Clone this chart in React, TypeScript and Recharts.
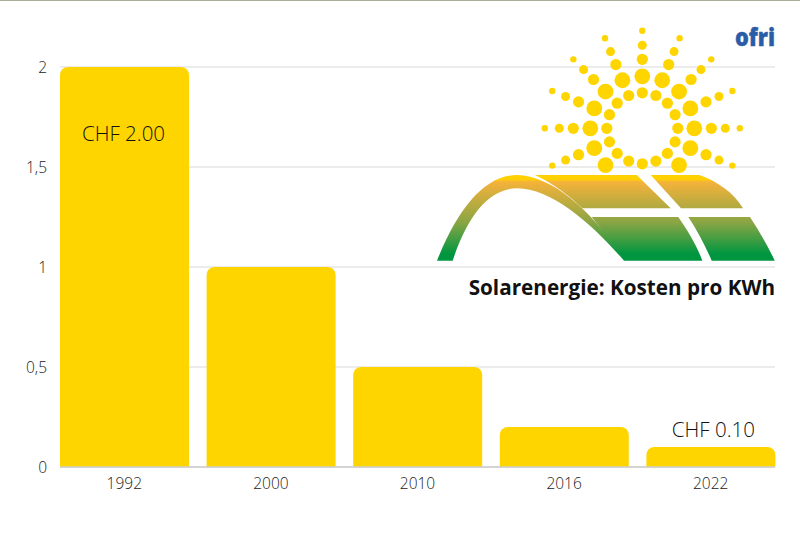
import { Bar, BarChart, CartesianGrid, LabelList, XAxis, YAxis } from 'recharts';

const YEARS = ['1992', '2000', '2010', '2016', '2022'];
const COSTS = [2, 1, 0.5, 0.2, 0.1];
const COST_LABELS = ['CHF 2.00', '', '', '', 'CHF 0.10'];
const Y_TICKS = [0, 0.5, 1, 1.5, 2];

const chartData = YEARS.map((year, i) => ({
  year,
  cost: COSTS[i],
  label: COST_LABELS[i],
}));

const FONT = '"Open Sans", sans-serif';
const YELLOW = '#ffd500';

// logo: dots on a polar grid around the sun centre
const SUN_X = 642.3;
const SUN_Y = 128.3;
const SUN_RINGS = [
  { radius: 35.5, size: 5.6, skip: 0 },
  { radius: 52, size: 7.9, skip: 1 },
  { radius: 69, size: 5.6, skip: 2 },
  { radius: 83, size: 4.5, skip: 2 },
  { radius: 97.5, size: 3.2, skip: 2 },
];

function sunDots() {
  const dots: { x: number; y: number; r: number }[] = [];
  SUN_RINGS.forEach((ring) => {
    for (let step = -8; step < 8; step++) {
      const off = Math.abs(step);
      if (ring.skip === 1 && off > 6) continue;
      if (ring.skip === 2 && off > 5) continue;
      const a = (step * 22.5 * Math.PI) / 180;
      dots.push({
        x: SUN_X + ring.radius * Math.sin(a),
        y: SUN_Y - ring.radius * Math.cos(a),
        r: ring.size,
      });
    }
  });
  return dots;
}

function SolarLogo() {
  return (
    <g>
      <defs>
        <linearGradient id='panel' gradientUnits='userSpaceOnUse' x1='0' y1='175' x2='0' y2='261'>
          <stop offset='0' stopColor='#ffd100' />
          <stop offset='0.05' stopColor='#ffd100' />
          <stop offset='0.08' stopColor='#f5b23a' />
          <stop offset='0.55' stopColor='#8aa544' />
          <stop offset='0.92' stopColor='#009640' />
          <stop offset='1' stopColor='#009640' />
        </linearGradient>
      </defs>
      {sunDots().map((d, i) => (
        <circle key={i} cx={d.x} cy={d.y} r={d.r} fill={YELLOW} />
      ))}
      <path
        d='M437 260.7 C458 208 485 175 517 175 C552 175 596 214 624 260.7 C592 224 552 188.3 517 188.3 C490 188.3 468 214 452.7 260.7 Z'
        fill='url(#panel)'
      />
      <path d='M535 175 L636.7 175 L670.7 208.3 L582.3 208.3 C570 196 552 183 535 175 Z' fill='url(#panel)' />
      <path d='M650.7 175 L699.3 175 C717 181 734 193 743 208.3 L681 208.3 Z' fill='url(#panel)' />
      <path d='M591.7 217 L678.3 217 C688 231 697 246 702.3 260.7 L624 260.7 C613 245 602 230 591.7 217 Z' fill='url(#panel)' />
      <path d='M688.3 217 L750 217 C759 231 768 246 774.7 260.7 L711.7 260.7 C705 245 697 230 688.3 217 Z' fill='url(#panel)' />
      <text
        x={735}
        y={45.7}
        fontFamily={FONT}
        fontWeight={800}
        fontSize={25}
        fill='#2a5ca8'
        stroke='#2a5ca8'
        strokeWidth={0.4}
        textLength={40}
        lengthAdjust='spacingAndGlyphs'
      >
        ofri
      </text>
      <text x={775} y={295} textAnchor='end' fontFamily={FONT} fontWeight={700} fontSize={20.7} fill='#111'>
        Solarenergie: Kosten pro KWh
      </text>
    </g>
  );
}

function CostLabel(props: any) {
  const { x, y, width, value, index } = props;
  if (!value) return null;
  // first label sits inside the tall bar, the last one above its short bar
  const labelX = x + width / 2 + (index === 0 ? -1 : 2.5);
  const labelY = index === 0 ? y + 74 : y - 10;
  return (
    <text x={labelX} y={labelY} textAnchor='middle' fontFamily={FONT} fontWeight={300} fontSize={20.5} fill='#111'>
      {value}
    </text>
  );
}

export default function App() {
  return (
    <div style={{ position: 'absolute', left: 0, top: 0, width: 800, height: 533, background: '#fff' }}>
      <div style={{ position: 'absolute', left: 0, top: 0, width: 800, height: 1, background: '#a9ad98' }} />
      <BarChart
        width={800}
        height={533}
        data={chartData}
        margin={{ top: 67, right: 25, bottom: 36, left: 0 }}
        barCategoryGap={9}
      >
        <CartesianGrid horizontal vertical={false} stroke='#e6e6e6' strokeWidth={1.5} />
        <XAxis
          dataKey='year'
          height={30}
          padding={{ left: -9, right: -9 }}
          tickLine={false}
          axisLine={{ stroke: '#cccccc', strokeWidth: 1.5 }}
          tick={{ fontFamily: FONT, fontWeight: 300, fontSize: 15.5, fill: '#222' }}
          tickMargin={5}
        />
        <YAxis
          width={60}
          domain={[0, 2]}
          ticks={Y_TICKS}
          axisLine={false}
          tickLine={false}
          tickFormatter={(v: number) => String(v).replace('.', ',')}
          tick={{ fontFamily: FONT, fontWeight: 300, fontSize: 15.5, fill: '#222' }}
          tickMargin={7}
        />
        <Bar dataKey='cost' fill={YELLOW} radius={[8, 8, 0, 0]} isAnimationActive={false}>
          <LabelList dataKey='label' content={CostLabel} />
        </Bar>
        <SolarLogo />
      </BarChart>
    </div>
  );
}
